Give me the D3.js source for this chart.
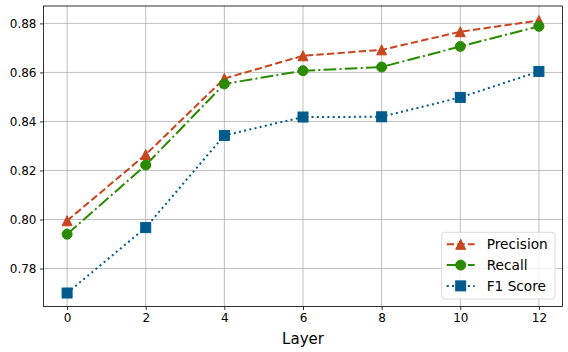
<!DOCTYPE html>
<html>
<head>
<meta charset="utf-8">
<script src="https://cdn.jsdelivr.net/npm/d3@7"></script>
<style>
body { margin: 0; background: #fff; }
text { font-family: "DejaVu Sans", sans-serif; fill: #000; }
.grid line { stroke: #b0b0b0; stroke-width: 0.8; }
</style>
</head>
<body>
<div id="chart"></div>
<script>
var layers = [0, 2, 4, 6, 8, 10, 12];
var precision = [0.7995, 0.8265, 0.8575, 0.8668, 0.8692, 0.8766, 0.8812];
var recall = [0.7940, 0.8222, 0.8553, 0.8607, 0.8622, 0.8706, 0.8788];
var f1 = [0.7700, 0.7967, 0.8343, 0.8418, 0.8419, 0.8498, 0.8604];
var xTicks = [0, 2, 4, 6, 8, 10, 12];
var yTicks = [0.78, 0.80, 0.82, 0.84, 0.86, 0.88];

var series = [
  {name: "Precision", values: precision, color: "#c8451f", dash: "7.4,3.2", marker: "triangle"},
  {name: "Recall", values: recall, color: "#2a8a00", dash: "12.8,3.2,2,3.2", marker: "circle"},
  {name: "F1 Score", values: f1, color: "#005a8c", dash: "2,3.3", marker: "square"}
];

var W = 568, H = 352;
var margin = {top: 6, right: 5.5, bottom: 45.5, left: 43.5};
var w = W - margin.left - margin.right, h = H - margin.top - margin.bottom;

var svg = d3.select("#chart").append("svg")
  .attr("width", W).attr("height", H);
var g = svg.append("g")
  .attr("transform", "translate(" + margin.left + "," + margin.top + ")");

var x = d3.scaleLinear().domain([-0.6, 12.6]).range([0, w]);
var y = d3.scaleLinear().domain([0.7645, 0.8871]).range([h, 0]);

// grid
var grid = g.append("g").attr("class", "grid");
grid.selectAll(".gx").data(xTicks).enter().append("line")
  .attr("x1", function(d) { return x(d); }).attr("x2", function(d) { return x(d); })
  .attr("y1", 0).attr("y2", h);
grid.selectAll(".gy").data(yTicks).enter().append("line")
  .attr("y1", function(d) { return y(d); }).attr("y2", function(d) { return y(d); })
  .attr("x1", 0).attr("x2", w);

// axes
var xAxis = g.append("g").attr("transform", "translate(0," + h + ")")
  .call(d3.axisBottom(x).tickValues(xTicks).tickSize(3.5).tickPadding(3.5).tickFormat(d3.format("d")));
var yAxis = g.append("g")
  .call(d3.axisLeft(y).tickValues(yTicks).tickSize(3.5).tickPadding(3.5).tickFormat(d3.format(".2f")));
[xAxis, yAxis].forEach(function(a) {
  a.selectAll("text").style("font-size", "12px").style("font-family", "DejaVu Sans").attr("fill", "#000");
  a.selectAll("line").attr("stroke", "#000").attr("stroke-width", 0.8);
  a.select(".domain").remove();
});

g.append("rect").attr("width", w).attr("height", h)
  .attr("fill", "none").attr("stroke", "#000").attr("stroke-width", 0.8);

g.append("text").attr("x", w / 2).attr("y", h + 37)
  .attr("text-anchor", "middle").style("font-size", "15px").text("Layer");

var line = d3.line().x(function(d, i) { return x(layers[i]); }).y(function(d) { return y(d); });

// markers like matplotlib: size 10 with 1px edge in same colour
function marker(sel, type, color) {
  var m;
  if (type === "triangle") {
    m = sel.append("path").attr("d", "M0,-5L5,5L-5,5Z");
  } else if (type === "circle") {
    m = sel.append("circle").attr("r", 5);
  } else {
    m = sel.append("rect").attr("x", -5).attr("y", -5).attr("width", 10).attr("height", 10);
  }
  m.attr("fill", color).attr("stroke", color).attr("stroke-width", 1);
}

series.forEach(function(s) {
  g.append("path").datum(s.values)
    .attr("d", line).attr("fill", "none")
    .attr("stroke", s.color).attr("stroke-width", 2)
    .attr("stroke-dasharray", s.dash);
  g.selectAll(null).data(s.values).enter().append("g")
    .attr("transform", function(d, i) { return "translate(" + x(layers[i]) + "," + y(d) + ")"; })
    .each(function() { marker(d3.select(this), s.marker, s.color); });
});

// legend
var lg = g.append("g").attr("transform", "translate(" + (441.7 - margin.left) + "," + (232.3 - margin.top) + ")");
lg.append("rect").attr("width", 113.3).attr("height", 66.7).attr("rx", 3)
  .attr("fill", "#fff").attr("fill-opacity", 0.8).attr("stroke", "#d0d0d0").attr("stroke-width", 0.8);
series.forEach(function(s, i) {
  var row = lg.append("g").attr("transform", "translate(0," + (12 + i * 20.8) + ")");
  row.append("line").attr("x1", 5).attr("x2", 33).attr("y1", 0).attr("y2", 0)
    .attr("stroke", s.color).attr("stroke-width", 2).attr("stroke-dasharray", s.dash);
  var m = row.append("g").attr("transform", "translate(19,0)");
  marker(m, s.marker, s.color);
  row.append("text").attr("x", 45).attr("y", 0).attr("dy", "0.35em")
    .style("font-size", "13.7px").text(s.name);
});
</script>
</body>
</html>
